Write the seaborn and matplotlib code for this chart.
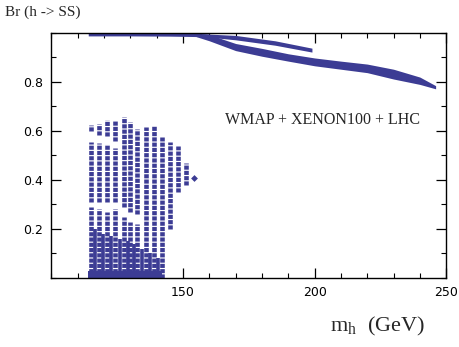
import numpy as np
import pandas as pd
import matplotlib
matplotlib.use("Agg")
import matplotlib.pyplot as plt
import seaborn as sns

# ==============================
# DATI
# ==============================
# banda superiore piatta, Br ~ 1
flat_mh = [114, 130, 145, 157]
flat_hi = [1.0, 1.0, 1.0, 0.998]
flat_lo = [0.988, 0.988, 0.987, 0.985]

# ramo sottile superiore (fino a ~199 GeV)
up_mh = [155, 170, 185, 199]
up_hi = [0.998, 0.99, 0.968, 0.938]
up_lo = [0.988, 0.972, 0.950, 0.922]

# ramo spesso inferiore (fino a ~246 GeV)
low_mh = [155, 160, 165, 170, 180, 190, 200, 210, 220, 230, 240, 246]
low_hi = [0.998, 0.995, 0.975, 0.957, 0.937, 0.915, 0.898, 0.885, 0.873, 0.852, 0.82, 0.785]
low_lo = [0.985, 0.968, 0.948, 0.928, 0.905, 0.885, 0.866, 0.852, 0.838, 0.812, 0.79, 0.772]

# colonne della regione bassa: mh, lista di segmenti (Br min, Br max)
col_mh = [115, 118, 121, 124, 127.5, 130, 132.5, 136, 139, 142, 145, 148, 151]
col_segments = [
    [(0.60, 0.625), (0.31, 0.555), (0.0, 0.29)],
    [(0.585, 0.63), (0.31, 0.55), (0.0, 0.28)],
    [(0.58, 0.645), (0.31, 0.545), (0.0, 0.27)],
    [(0.56, 0.64), (0.31, 0.53), (0.0, 0.28)],
    [(0.29, 0.655), (0.0, 0.25)],
    [(0.27, 0.635), (0.0, 0.23)],
    [(0.26, 0.61), (0.0, 0.22)],
    [(0.0, 0.615)],
    [(0.0, 0.62)],
    [(0.0, 0.575)],
    [(0.20, 0.555)],
    [(0.35, 0.54)],
    [(0.38, 0.47)],
]
# colonne intermedie vicino al fondo
bot_mh = [116.5, 119.5, 122.5, 126, 129, 131.5, 134.5, 137.5, 140.5]
bot_hi = [0.20, 0.18, 0.17, 0.16, 0.15, 0.14, 0.12, 0.10, 0.08]

iso_mh = [154]
iso_br = [0.41]

x_ticks = [150, 200, 250]
y_ticks = [0.2, 0.4, 0.6, 0.8]

colore = "#3c3c94"

# ==============================
# FIGURA
# ==============================
sns.set_style("ticks")
plt.rcParams["font.family"] = ["DejaVu Sans"]
plt.rcParams["mathtext.fontset"] = "custom"
plt.rcParams["mathtext.rm"] = "Liberation Serif"

fig = plt.figure(figsize=(4.59, 3.47), dpi=100)
ax = fig.add_axes([0.112, 0.199, 0.86, 0.706])

ax.fill_between(flat_mh, flat_lo, flat_hi, color=colore, lw=0)
ax.fill_between(up_mh, up_lo, up_hi, color=colore, lw=0)
ax.fill_between(low_mh, low_lo, low_hi, color=colore, lw=0)

for m, segs in zip(col_mh, col_segments):
    for lo, hi in segs:
        ax.vlines(m, lo, hi, color=colore, lw=3.3, linestyles=(0, (0.9, 0.25)))

ax.vlines(bot_mh, 0, bot_hi, color=colore, lw=2.6)
ax.fill_between([114, 142], [0, 0], [0.03, 0.03], color=colore, lw=0)

sns.scatterplot(x=iso_mh, y=iso_br, color=colore, s=12, marker="D",
                linewidth=0, ax=ax)

ax.set_xlim(100, 250)
ax.set_ylim(0, 1.0)
ax.set_xticks(x_ticks)
ax.set_xticks(np.arange(100, 251, 10), minor=True)
ax.set_yticks(y_ticks)
ax.set_yticks(np.arange(0, 1.01, 0.1), minor=True)
ax.set_xticklabels([str(t) for t in x_ticks])
ax.set_yticklabels([f"{t:.1f}" for t in y_ticks])
ax.tick_params(which="both", direction="in", top=True, right=True,
               labelsize=9, colors="black", pad=6)
ax.tick_params(which="major", length=7, width=0.9)
ax.tick_params(which="minor", length=3.5, width=0.8)
for s in ax.spines.values():
    s.set_linewidth(1.0)
    s.set_color("black")

ax.text(203, 0.645, "WMAP + XENON100 + LHC", family="Liberation Serif",
        fontsize=11.5, ha="center", va="center")

fig.text(0.011, 0.965, "Br (h -> SS)", family="Liberation Serif",
         fontsize=11, ha="left", va="center")
fig.text(0.72, 0.06, r"m$_{\rm h}$  (GeV)", family="Liberation Serif",
         fontsize=16, ha="left", va="center")

fig.savefig("out.png", dpi=100)
